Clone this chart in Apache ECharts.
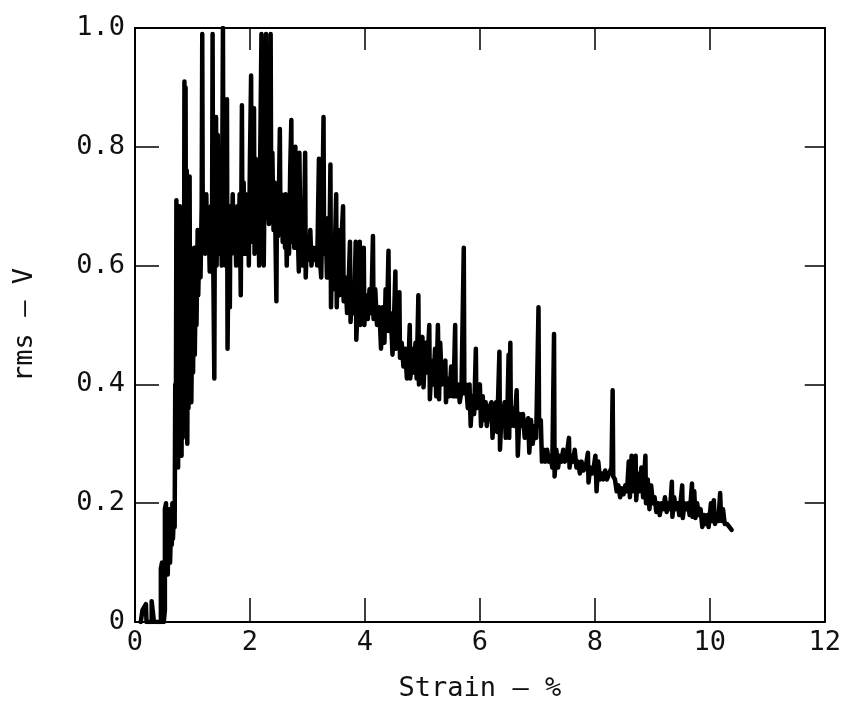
<!DOCTYPE html>
<html>
<head>
<meta charset="utf-8">
<script src="https://cdn.jsdelivr.net/npm/echarts@6/dist/echarts.min.js"></script>
<style>
  html, body { margin: 0; padding: 0; background: #fff; }
  #main { width: 844px; height: 715px; }
</style>
</head>
<body>
<div id="main"></div>
<script>
// strain (%) and rms (V) in order
var strain = [
  0.10, 0.13, 0.13, 0.16, 0.19, 0.20, 0.29, 0.29, 0.32, 0.33, 0.45, 0.45, 0.47, 0.48, 0.50, 0.52,
  0.52, 0.54, 0.55, 0.56, 0.57, 0.58, 0.60, 0.61, 0.63, 0.64, 0.65, 0.66, 0.68, 0.69,
  0.70, 0.71, 0.72, 0.73, 0.74, 0.75, 0.76, 0.77, 0.78, 0.79, 0.80, 0.81, 0.82, 0.83, 0.84, 0.85,
  0.86, 0.87, 0.88, 0.89, 0.90, 0.91, 0.92, 0.93, 0.95, 0.96, 0.97, 0.98, 1.00, 1.01, 1.03, 1.04,
  1.06, 1.07, 1.09, 1.10, 1.12, 1.14,
  1.16, 1.17, 1.18, 1.20, 1.22, 1.24, 1.26, 1.28, 1.30, 1.32, 1.34, 1.35, 1.36, 1.38, 1.39, 1.41,
  1.42, 1.44, 1.45, 1.47, 1.49, 1.51, 1.53, 1.54, 1.56, 1.58, 1.60, 1.61, 1.63, 1.65, 1.66, 1.68,
  1.70, 1.72, 1.74, 1.76, 1.78, 1.80, 1.82, 1.84, 1.86, 1.87, 1.89, 1.91, 1.93, 1.95, 1.97, 1.98,
  2.00, 2.02, 2.03,
  2.05, 2.07, 2.08, 2.10, 2.12, 2.14, 2.16, 2.18, 2.20, 2.21, 2.23, 2.24, 2.26, 2.28, 2.29, 2.31,
  2.33, 2.35, 2.36, 2.37, 2.39, 2.41, 2.43, 2.46, 2.47, 2.49, 2.51, 2.52, 2.53, 2.55, 2.57, 2.59,
  2.61, 2.62, 2.64, 2.66, 2.68, 2.70, 2.72, 2.73, 2.75, 2.77, 2.79, 2.80, 2.82, 2.85, 2.86, 2.88,
  2.90, 2.92, 2.94, 2.96, 2.97, 2.99, 3.02, 3.05, 3.07, 3.10, 3.13, 3.15, 3.17, 3.20, 3.21, 3.24,
  3.26, 3.28, 3.29, 3.32, 3.34, 3.36, 3.38, 3.40, 3.41, 3.43, 3.45, 3.48, 3.50, 3.51, 3.54, 3.56,
  3.58, 3.62, 3.63, 3.66, 3.69, 3.72, 3.74, 3.75, 3.78, 3.81, 3.84, 3.85, 3.88, 3.91, 3.92, 3.95,
  3.98, 3.99, 4.02, 4.05, 4.08, 4.11, 4.14, 4.15, 4.18, 4.21, 4.25, 4.28, 4.31, 4.34, 4.36, 4.38,
  4.41, 4.42, 4.45, 4.48, 4.50, 4.53, 4.54, 4.57, 4.60, 4.61, 4.64, 4.67, 4.70, 4.73, 4.76, 4.78,
  4.79, 4.82, 4.85, 4.88, 4.90, 4.93, 4.94, 4.97, 5.00, 5.02, 5.05, 5.08, 5.12, 5.13, 5.16, 5.19,
  5.22, 5.24, 5.27, 5.29, 5.31, 5.34, 5.37, 5.40, 5.41, 5.44, 5.47, 5.50, 5.53, 5.55, 5.57, 5.58,
  5.62, 5.65, 5.68, 5.72, 5.73, 5.76, 5.79, 5.82, 5.84, 5.87, 5.90, 5.93, 5.94, 5.97, 6.00, 6.02,
  6.05, 6.07, 6.10, 6.12, 6.16, 6.20, 6.22, 6.25, 6.28, 6.30, 6.34, 6.35, 6.38, 6.40, 6.43, 6.45,
  6.48, 6.50, 6.51, 6.53, 6.54, 6.57, 6.60, 6.64, 6.66, 6.69, 6.72, 6.75, 6.78, 6.81, 6.84, 6.86,
  6.89, 6.92, 6.95, 6.98, 7.02, 7.03, 7.06, 7.08, 7.11, 7.14, 7.17, 7.20, 7.23, 7.26, 7.29, 7.30,
  7.33, 7.36, 7.39, 7.42, 7.45, 7.48, 7.51, 7.55, 7.56, 7.59, 7.62, 7.65, 7.68, 7.71, 7.74, 7.77,
  7.80, 7.84, 7.88, 7.89, 7.92, 7.95, 7.98, 8.01, 8.03, 8.06, 8.09, 8.12, 8.15, 8.18, 8.21, 8.25,
  8.29, 8.31, 8.32, 8.35, 8.38, 8.41, 8.44, 8.47, 8.50, 8.53, 8.56, 8.59, 8.61, 8.64, 8.66, 8.69,
  8.71, 8.72, 8.75, 8.78, 8.81, 8.84, 8.88, 8.89, 8.92, 8.95, 8.98, 9.01, 9.04, 9.07, 9.10, 9.13,
  9.16, 9.19, 9.22, 9.25, 9.28, 9.31, 9.34, 9.35, 9.38, 9.41, 9.44, 9.47, 9.52, 9.53, 9.56, 9.59,
  9.62, 9.65, 9.69, 9.70, 9.73, 9.75, 9.78, 9.81, 9.84, 9.87, 9.90, 9.93, 9.96, 9.98, 10.02, 10.04,
  10.07, 10.09, 10.12, 10.15, 10.18, 10.20, 10.23, 10.26, 10.30, 10.34, 10.38
];
var rms = [
  0.00, 0.00, 0.02, 0.025, 0.03, 0.00, 0.00, 0.035, 0.035, 0.00, 0.00, 0.09, 0.10, 0.02, 0.00, 0.02,
  0.19, 0.20, 0.12, 0.18, 0.08, 0.15, 0.19, 0.10, 0.17, 0.13, 0.20, 0.14, 0.19, 0.16,
  0.40, 0.28, 0.71, 0.33, 0.68, 0.26, 0.64, 0.30, 0.70, 0.35, 0.62, 0.28, 0.55, 0.31, 0.68, 0.40,
  0.91, 0.52, 0.90, 0.33, 0.76, 0.30, 0.60, 0.36, 0.75, 0.40, 0.58, 0.37, 0.55, 0.42, 0.63, 0.45,
  0.60, 0.50, 0.66, 0.55, 0.64, 0.58,
  0.70, 0.99, 0.64, 0.70, 0.62, 0.72, 0.63, 0.68, 0.59, 0.70, 0.65, 0.99, 0.62, 0.41, 0.72, 0.85,
  0.60, 0.82, 0.66, 0.62, 0.70, 0.60, 1.00, 0.63, 0.72, 0.60, 0.88, 0.46, 0.66, 0.53, 0.70, 0.62,
  0.72, 0.63, 0.68, 0.60, 0.70, 0.62, 0.72, 0.55, 0.87, 0.64, 0.74, 0.62, 0.72, 0.66, 0.70, 0.60,
  0.78, 0.92, 0.64,
  0.75, 0.865, 0.62, 0.78, 0.64, 0.76, 0.60, 0.80, 0.99, 0.66, 0.76, 0.60, 0.80, 0.99, 0.68, 0.78,
  0.67, 0.75, 0.99, 0.70, 0.79, 0.66, 0.74, 0.54, 0.72, 0.65, 0.76, 0.83, 0.68, 0.72, 0.64, 0.70,
  0.63, 0.72, 0.60, 0.70, 0.62, 0.76, 0.845, 0.64, 0.72, 0.63, 0.80, 0.63, 0.70, 0.59, 0.79, 0.62,
  0.68, 0.60, 0.66, 0.79, 0.58, 0.64, 0.61, 0.66, 0.60, 0.63, 0.61, 0.63, 0.60, 0.78, 0.62, 0.58,
  0.70, 0.85, 0.62, 0.66, 0.58, 0.68, 0.60, 0.77, 0.53, 0.62, 0.56, 0.64, 0.72, 0.53, 0.66, 0.55,
  0.62, 0.70, 0.54, 0.58, 0.52, 0.58, 0.64, 0.505, 0.56, 0.52, 0.64, 0.475, 0.55, 0.64, 0.50, 0.56,
  0.63, 0.50, 0.55, 0.51, 0.56, 0.52, 0.65, 0.51, 0.56, 0.50, 0.53, 0.46, 0.53, 0.47, 0.56, 0.49,
  0.625, 0.49, 0.52, 0.45, 0.49, 0.59, 0.46, 0.50, 0.555, 0.445, 0.47, 0.43, 0.46, 0.41, 0.44, 0.50,
  0.41, 0.46, 0.42, 0.47, 0.41, 0.55, 0.40, 0.46, 0.48, 0.395, 0.47, 0.42, 0.50, 0.375, 0.44, 0.40,
  0.46, 0.38, 0.50, 0.375, 0.47, 0.40, 0.43, 0.44, 0.37, 0.41, 0.38, 0.43, 0.38, 0.42, 0.50, 0.38,
  0.40, 0.37, 0.39, 0.63, 0.385, 0.40, 0.36, 0.40, 0.33, 0.38, 0.35, 0.46, 0.36, 0.39, 0.40, 0.33,
  0.38, 0.34, 0.37, 0.33, 0.36, 0.37, 0.31, 0.36, 0.37, 0.32, 0.455, 0.29, 0.36, 0.34, 0.37, 0.31,
  0.36, 0.45, 0.31, 0.47, 0.33, 0.36, 0.33, 0.39, 0.28, 0.35, 0.33, 0.35, 0.31, 0.33, 0.343, 0.285,
  0.34, 0.30, 0.33, 0.31, 0.53, 0.33, 0.34, 0.27, 0.29, 0.27, 0.29, 0.27, 0.28, 0.26, 0.485, 0.245,
  0.29, 0.26, 0.28, 0.27, 0.29, 0.27, 0.28, 0.31, 0.26, 0.28, 0.27, 0.29, 0.26, 0.27, 0.25, 0.27,
  0.255, 0.26, 0.285, 0.235, 0.26, 0.25, 0.26, 0.28, 0.22, 0.27, 0.24, 0.25, 0.24, 0.255, 0.24, 0.25,
  0.26, 0.39, 0.245, 0.24, 0.22, 0.23, 0.21, 0.225, 0.215, 0.23, 0.22, 0.27, 0.21, 0.28, 0.22, 0.25,
  0.28, 0.205, 0.25, 0.22, 0.26, 0.21, 0.28, 0.20, 0.24, 0.19, 0.23, 0.20, 0.21, 0.185, 0.20, 0.18,
  0.20, 0.19, 0.21, 0.185, 0.20, 0.19, 0.236, 0.177, 0.21, 0.19, 0.20, 0.18, 0.23, 0.175, 0.20, 0.19,
  0.20, 0.18, 0.233, 0.177, 0.22, 0.175, 0.20, 0.18, 0.19, 0.16, 0.18, 0.165, 0.18, 0.16, 0.20, 0.17,
  0.205, 0.165, 0.18, 0.17, 0.217, 0.17, 0.19, 0.165, 0.165, 0.16, 0.155
];
var xTicks = [0, 2, 4, 6, 8, 10, 12];
var yTicks = [0, 0.2, 0.4, 0.6, 0.8, 1.0];

var FONT = "'DejaVu Sans Mono', monospace";

var points = [];
for (var i = 0; i < strain.length; i++) {
  points.push([strain[i], rms[i]]);
}

var chart = echarts.init(document.getElementById('main'));

var lineStyleAxis = { color: '#000', width: 2 };

chart.setOption({
  animation: false,
  backgroundColor: '#fff',
  grid: { left: 135, right: 13, top: 28, bottom: 93 },
  xAxis: [{
    type: 'value',
    position: 'bottom',
    min: xTicks[0],
    max: xTicks[xTicks.length - 1],
    interval: 2,
    name: 'Strain \u2014 %',
    nameLocation: 'middle',
    nameGap: 53,
    nameTextStyle: { fontFamily: FONT, fontSize: 27, color: '#111' },
    axisLine: { show: true, onZero: false, lineStyle: lineStyleAxis },
    axisTick: { show: true, inside: true, length: 24, lineStyle: { color: '#000', width: 1.5 } },
    axisLabel: { show: true, margin: 7, fontFamily: FONT, fontSize: 27, color: '#111' },
    splitLine: { show: false }
  }, {
    type: 'value',
    position: 'top',
    min: xTicks[0],
    max: xTicks[xTicks.length - 1],
    interval: 2,
    axisLine: { show: true, onZero: false, lineStyle: lineStyleAxis },
    axisTick: { show: true, inside: true, length: 22, lineStyle: { color: '#000', width: 1.5 } },
    axisLabel: { show: false },
    splitLine: { show: false }
  }],
  yAxis: [{
    type: 'value',
    position: 'left',
    min: yTicks[0],
    max: yTicks[yTicks.length - 1],
    interval: 0.2,
    name: 'rms \u2014 V',
    nameLocation: 'middle',
    nameGap: 97,
    nameTextStyle: { fontFamily: FONT, fontSize: 27, color: '#111' },
    axisLine: { show: true, onZero: false, lineStyle: lineStyleAxis },
    axisTick: { show: true, inside: true, length: 24, lineStyle: { color: '#000', width: 1.5 } },
    axisLabel: {
      show: true, margin: 10, fontFamily: FONT, fontSize: 27, color: '#111',
      formatter: function (v) { return v === 0 ? '0' : v.toFixed(1); }
    },
    splitLine: { show: false }
  }, {
    type: 'value',
    position: 'right',
    min: yTicks[0],
    max: yTicks[yTicks.length - 1],
    interval: 0.2,
    axisLine: { show: true, onZero: false, lineStyle: lineStyleAxis },
    axisTick: { show: true, inside: true, length: 20, lineStyle: { color: '#000', width: 1.5 } },
    axisLabel: { show: false },
    splitLine: { show: false }
  }],
  series: [{
    type: 'line',
    xAxisIndex: 0,
    yAxisIndex: 0,
    data: points,
    showSymbol: false,
    lineStyle: { color: '#000', width: 4.5, join: 'round', cap: 'round' },
    clip: true
  }]
});
</script>
</body>
</html>
